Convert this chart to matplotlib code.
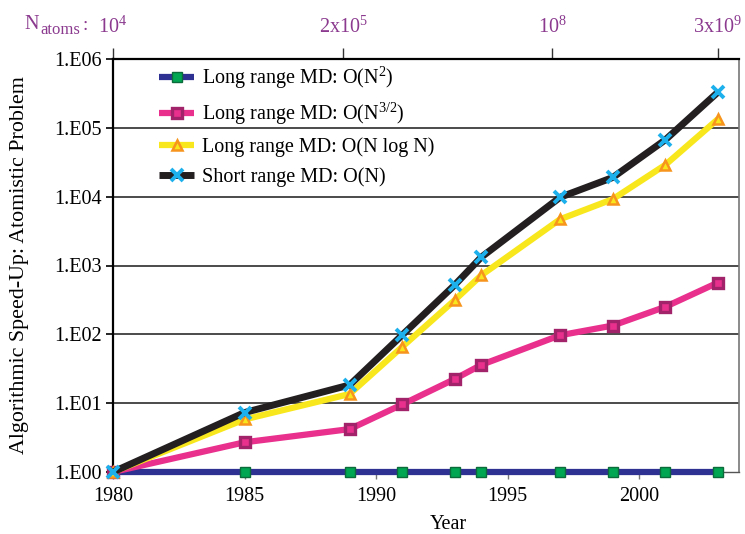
import matplotlib
matplotlib.use("Agg")
import matplotlib.pyplot as plt
from matplotlib.ticker import FixedLocator

plt.rcParams['font.family'] = ['Liberation Serif', 'DejaVu Serif']
plt.rcParams['mathtext.default'] = 'regular'

# Calendar years of the data points
years = [1980, 1985, 1989, 1991, 1993, 1994, 1997, 1999, 2001, 2003]

# Algorithmic speed-up for each algorithm class
speedup_n2 = [1, 1, 1, 1, 1, 1, 1, 1, 1, 1]
speedup_n32 = [1, 2.7, 4.2, 9.6, 22.5, 36, 97, 134, 251, 565]
speedup_nlogn = [1, 5.8, 13.6, 66, 316, 720, 4700, 9200, 29000, 134000]
speedup_short = [1, 7.3, 18.4, 98, 525, 1320, 9800, 19000, 67000, 330000]

series_labels = [
    'Long range MD: O(N$^2$)',
    'Long range MD: O(N$^{3/2}$)',
    'Long range MD: O(N log N)',
    'Short range MD: O(N)',
]

# Problem size (number of atoms) along the top axis
natoms_years = [1980, 1988.75, 1996.7, 2003]
natoms_labels = ['10$^4$', '2x10$^5$', '10$^8$', '3x10$^9$']

year_ticks = [1980, 1985, 1990, 1995, 2000]
speedup_ticks = [1, 10, 100, 1000, 10000, 100000, 1000000]
speedup_tick_labels = ['1.E00', '1.E01', '1.E02', '1.E03', '1.E04', '1.E05', '1.E06']

purple = '#8B3A8F'
fs = 14.5

W, H = 745, 534
fig = plt.figure(figsize=(W / 100, H / 100), dpi=100)
ax = fig.add_axes([113 / W, 1 - 472 / H, (739 - 113) / W, (472 - 59) / H])

ax.set_yscale('log')
ax.set_xlim(1980, 2003.8)
ax.set_ylim(1, 1e6)

# horizontal grid at each decade
for v in speedup_ticks[1:-1]:
    ax.axhline(v, color='#1a1a1a', lw=1.1, zorder=1)

common = dict(clip_on=False, solid_capstyle='butt', solid_joinstyle='round')
ax.plot(years, speedup_n2, color='#2E3192', lw=4.5, marker='s', ms=7.5,
        mfc='#00A651', mec='#0B6B3A', mew=1.0, zorder=3, label=series_labels[0], **common)
ax.plot(years, speedup_n32, color='#E8308C', lw=4.5, marker='s', ms=7.5,
        mfc='#E8308C', mec='#A3236B', mew=2.4, zorder=4, label=series_labels[1], **common)
ax.plot(years, speedup_nlogn, color='#F8E71C', lw=4.5, marker='^', ms=7,
        mfc='#F8E71C', mec='#F7941D', mew=1.8, zorder=5, label=series_labels[2], **common)
ax.plot(years, speedup_short, color='#231F20', lw=5, marker='x', ms=8,
        mec='#1CB0EC', mew=2.8, zorder=6, label=series_labels[3], **common)

ax.yaxis.set_major_locator(FixedLocator(speedup_ticks))
ax.yaxis.set_minor_locator(FixedLocator([]))
ax.set_yticklabels(speedup_tick_labels)
ax.set_xticks(year_ticks)
ax.set_xticklabels([str(y) for y in year_ticks])
ax.tick_params(axis='y', which='major', direction='out', length=5, width=1.2,
               labelsize=fs, pad=3, color='black')
ax.tick_params(axis='x', which='major', direction='out', length=5, width=1,
               labelsize=fs, pad=6, color='#777777')

for side in ['left', 'top']:
    ax.spines[side].set_linewidth(1.6)
    ax.spines[side].set_color('black')
ax.spines['right'].set_color('#777777')
ax.spines['right'].set_linewidth(1.2)
ax.spines['bottom'].set_color('#555555')
ax.spines['bottom'].set_linewidth(1.0)

ax.set_xlabel('Year', fontsize=fs)
ax.xaxis.set_label_coords(0.535, -0.105)
ax.set_ylabel('Algorithmic Speed-Up: Atomistic Problem', fontsize=15.8)
ax.yaxis.set_label_coords(-0.134, 0.5)

# top axis: number of atoms
top = ax.secondary_xaxis('top')
top.set_xticks(natoms_years)
top.set_xticklabels(natoms_labels)
top.tick_params(axis='x', direction='out', length=8, width=1, color='#333333',
                labelcolor=purple, labelsize=fs, pad=7)
top.spines['top'].set_visible(False)

# "N_atoms:" caption to the left of the top axis labels
fig.text(24 / W, 1 - 29 / H, 'N', color=purple, fontsize=14.5,
         ha='left', va='baseline')
fig.text(40 / W, 1 - 34 / H, 'atoms', color=purple, fontsize=12,
         ha='left', va='baseline')
fig.text(83 / W, 1 - 30 / H, ':', color=purple, fontsize=14,
         ha='left', va='baseline')

leg = ax.legend(loc='upper left', bbox_to_anchor=(0.054, 1.015), frameon=False,
                fontsize=fs, handlelength=1.75, handletextpad=0.4,
                labelspacing=0.5, borderaxespad=0.2)

fig.savefig('out.png', dpi=100)
